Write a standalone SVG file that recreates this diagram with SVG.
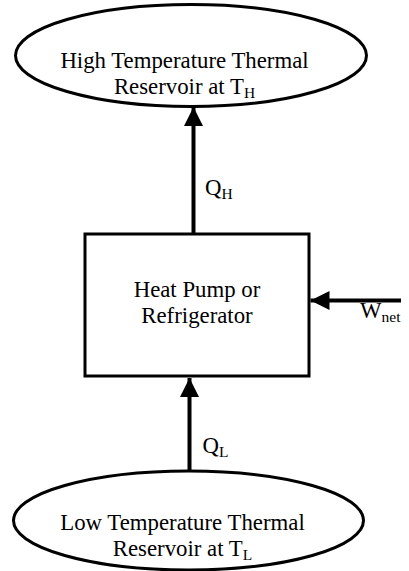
<svg xmlns="http://www.w3.org/2000/svg" width="409" height="571" viewBox="0 0 409 571">
<style>
.shape{fill:#fff;stroke:#000;stroke-width:3}
.t{font-family:"Liberation Serif","Times New Roman",serif;font-size:22.8px;fill:#000}
.sub{font-size:15.5px}
.c{text-anchor:middle}
.line{stroke:#000;stroke-width:4;fill:none}
</style>
<defs>
<marker id="ah" markerUnits="userSpaceOnUse" markerWidth="20" markerHeight="20" refX="19" refY="9.5" orient="auto">
<path d="M0,0 L19,9.5 L0,19 Z" fill="#000"/>
</marker>
</defs>
<g id="high">
<ellipse class="shape" cx="191" cy="55.5" rx="175.5" ry="51"/>
<text class="t c" x="184.5" y="68">High Temperature Thermal</text>
<text class="t c" x="184.5" y="94">Reservoir at T<tspan class="sub" dy="4">H</tspan></text>
</g>
<g id="pump">
<rect class="shape" x="85" y="234" width="224" height="142"/>
<text class="t c" x="197" y="297">Heat Pump or</text>
<text class="t c" x="197" y="323">Refrigerator</text>
</g>
<g id="low">
<ellipse class="shape" cx="188.5" cy="520.5" rx="175" ry="49.5"/>
<text class="t c" x="182.5" y="530">Low Temperature Thermal</text>
<text class="t c" x="182.5" y="556">Reservoir at T<tspan class="sub" dy="4">L</tspan></text>
</g>
<g id="connectors">
<line class="line" x1="193.5" y1="234" x2="193.5" y2="107" marker-end="url(#ah)"/>
<text class="t" x="205" y="195">Q<tspan class="sub" dy="4">H</tspan></text>
<line class="line" x1="189.5" y1="471" x2="189.5" y2="378" marker-end="url(#ah)"/>
<text class="t" x="202.5" y="453">Q<tspan class="sub" dy="4">L</tspan></text>
<line class="line" x1="401" y1="300.5" x2="310.5" y2="300.5" marker-end="url(#ah)"/>
<text class="t" x="360" y="318">W<tspan class="sub" dy="4">net</tspan></text>
</g>
</svg>
